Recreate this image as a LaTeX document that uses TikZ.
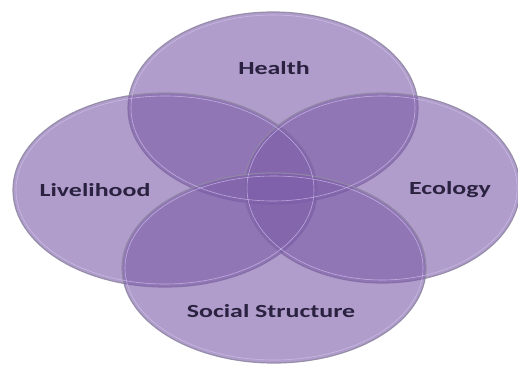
\documentclass[tikz,border=0pt]{standalone}
\usepackage{fontspec}
\setmainfont{Carlito}
\usetikzlibrary{shapes.geometric}
\definecolor{petal}{HTML}{7C5CA8}
\definecolor{rim}{HTML}{9088A4}
\definecolor{shine}{HTML}{D2C4EE}
\definecolor{ink}{HTML}{2A2240}
\tikzset{
  petalshape/.style={ellipse, fill=petal, fill opacity=0.6, draw=rim, draw opacity=0.9, line width=1.2pt, inner sep=0pt},
  shineshape/.style={ellipse, draw=shine, draw opacity=0.7, line width=0.6pt, inner sep=0pt},
  lbl/.style={text=ink, font=\bfseries\fontsize{18.5}{20}\selectfont, inner sep=0pt}
}
\newcommand{\wide}[1]{\scalebox{1.4}[1]{#1}}
\begin{document}
\begin{tikzpicture}[x=1pt,y=-1pt]
\useasboundingbox (0,0) rectangle (518,371);
\node[petalshape, minimum width=290pt, minimum height=192pt] (health) at (273,108) {};
\node[petalshape, minimum width=304pt, minimum height=194pt] (liveli) at (165,190) {};
\node[petalshape, minimum width=276pt, minimum height=190pt] (eco) at (382,188) {};
\node[petalshape, minimum width=304pt, minimum height=190pt] (social) at (274,268) {};
\node[shineshape, minimum width=284pt, minimum height=186pt] (healthS) at (273,108) {};
\node[shineshape, minimum width=298pt, minimum height=188pt] (liveliS) at (165,190) {};
\node[shineshape, minimum width=270pt, minimum height=184pt] (ecoS) at (382,188) {};
\node[shineshape, minimum width=298pt, minimum height=184pt] (socialS) at (274,268) {};
\node[lbl] (thealth) at (274,68) {\wide{Health}};
\node[lbl] (tliveli) at (95,190) {\wide{Livelihood}};
\node[lbl] (teco) at (450,190) {\wide{Ecology}};
\node[lbl] (tsocial) at (271,311) {\wide{Social Structure}};
\end{tikzpicture}
\end{document}
